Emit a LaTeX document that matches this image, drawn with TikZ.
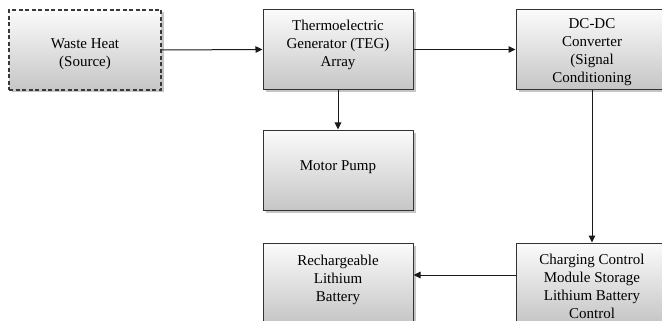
\documentclass[tikz,border=0pt]{standalone}
\usepackage{fontspec}
\setmainfont{Liberation Serif}
\usetikzlibrary{shadows,arrows.meta}
\definecolor{edge}{HTML}{333333}
\definecolor{linec}{HTML}{1A1A1A}
\tikzset{
  blk/.style={rectangle, draw=edge, line width=1pt, top color=gray!3, bottom color=gray!45,
    minimum width=150pt, minimum height=80pt, inner sep=0pt,
    drop shadow={shadow xshift=2.5pt, shadow yshift=-2.5pt, fill=gray!75, opacity=0.6}},
  dashblk/.style={blk, draw=gray!45!black, line width=1.1pt, dash pattern=on 4pt off 2.5pt},
  txt/.style={align=center, inner sep=0pt, font=\fontsize{15}{18}\selectfont, text=black},
  arr/.style={draw=linec, line width=1pt, -{Triangle[length=7pt,width=6.5pt]}}
}
\begin{document}
\begin{tikzpicture}[x=1pt,y=-1pt]
\useasboundingbox (0,0) rectangle (662,321);
\clip (0,0) rectangle (662,321);
\node[dashblk, minimum width=152pt] (waste) at (85,50) {};
\node[blk] (teg) at (338,49.5) {};
\node[blk, minimum width=152pt] (dc) at (592,49.5) {};
\node[blk] (motor) at (338,170) {};
\node[blk] (batt) at (338,283) {};
\node[blk, minimum width=152pt] (charge) at (592,283) {};
\node[txt] (wastet) at (85,54) {Waste Heat\\(Source)};
\node[txt] (tegt) at (338,45) {Thermoelectric\\Generator (TEG)\\Array};
\node[txt] (dct) at (592,52.5) {DC-DC\\Converter\\(Signal\\Conditioning};
\node[txt] (motort) at (338,167) {Motor Pump};
\node[txt] (battt) at (338,280) {Rechargeable\\Lithium\\Battery};
\node[txt] (charget) at (592,286) {Charging Control\\Module Storage\\Lithium Battery\\Control};
\draw[arr] (waste.east) -- (teg.west);
\draw[arr] (teg.east) -- (dc.west);
\draw[arr] (teg.south) -- (motor.north);
\draw[arr] (dc.south) -- (charge.north);
\draw[arr] ([yshift=8pt]charge.west) -- ([yshift=8pt]batt.east);
\end{tikzpicture}
\end{document}
